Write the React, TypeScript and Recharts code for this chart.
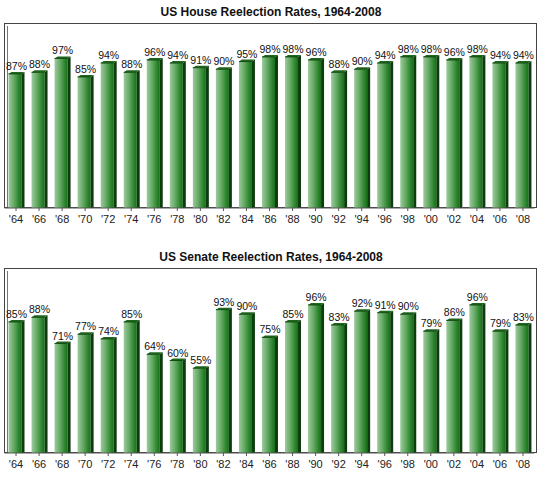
import React from "react";
import { BarChart, Bar, XAxis, YAxis, LabelList } from "recharts";

const YEARS = ["'64","'66","'68","'70","'72","'74","'76","'78","'80","'82","'84","'86","'88","'90","'92","'94","'96","'98","'00","'02","'04","'06","'08"];

const HOUSE_RATES = [87,88,97,85,94,88,96,94,91,90,95,98,98,96,88,90,94,98,98,96,98,94,94];

const SENATE_RATES = [85,88,71,77,74,85,64,60,55,93,90,75,85,96,83,92,91,90,79,86,96,79,83];

const FONT = "'Liberation Sans', Arial, sans-serif";

// 3d-ish bar: gradient front, dark side, dark top cap
const Bar3D = (p: any) => {
  const { x, y, width, height } = p;
  if (height == null || height <= 0) return null;
  const d = 3;
  const fw = width - d;
  return (
    <g>
      <defs>
        <linearGradient id="barFront" x1="0" y1="0" x2="1" y2="0">
          <stop offset="0" stopColor="#9ccb9c" />
          <stop offset="0.4" stopColor="#68aa68" />
          <stop offset="0.75" stopColor="#2f8a30" />
          <stop offset="1" stopColor="#1d6b1e" />
        </linearGradient>
      </defs>
      <rect x={x} y={y} width={fw} height={height} fill="url(#barFront)" />
      <polygon
        points={`${x + fw},${y} ${x + width},${y - 2} ${x + width},${y + height} ${x + fw},${y + height}`}
        fill="#0c3d0c"
      />
      <polygon
        points={`${x},${y} ${x + fw},${y} ${x + width},${y - 2} ${x + d},${y - 2}`}
        fill="#1f661f"
      />
      <line x1={x} y1={y} x2={x + fw} y2={y} stroke="#134d13" strokeWidth={1} />
    </g>
  );
};

function RatesPanel({ title, rates }: { title: string; rates: number[] }) {
  const data = YEARS.map((year, i) => ({ year, rate: rates[i] }));
  return (
    <div style={{ position: "relative", width: 550, height: 245 }}>
      <div
        style={{
          position: "absolute",
          left: 0,
          top: 5,
          width: 542,
          textAlign: "center",
          fontFamily: FONT,
          fontWeight: "bold",
          fontSize: 12,
          color: "#111",
        }}
      >
        {title}
      </div>
      {/* frame of the plot box */}
      <div
        style={{
          position: "absolute",
          left: 4,
          top: 23,
          width: 531,
          height: 183,
          border: "1.5px solid #444",
        }}
      />
      <div
        style={{
          position: "absolute",
          left: 7,
          top: 26,
          width: 0,
          height: 181,
          borderLeft: "1px solid #777",
        }}
      />
      <div style={{ position: "absolute", left: 0, top: 0 }}>
        <BarChart
          width={550}
          height={245}
          data={data}
          margin={{ top: 23, right: 15.5, left: 4.5, bottom: 0 }}
          barSize={16}
        >
          <XAxis
            dataKey="year"
            height={37}
            axisLine={{ stroke: "#555", strokeWidth: 1 }}
            tickLine={{ stroke: "#555" }}
            tickSize={3}
            tickMargin={4}
            interval={0}
            tick={{ fontFamily: FONT, fontSize: 11, fill: "#222" }}
          />
          <YAxis hide domain={[0, 120]} />
          <Bar dataKey="rate" shape={Bar3D} isAnimationActive={false}>
            <LabelList
              dataKey="rate"
              position="top"
              offset={4}
              formatter={(v: any) => `${v}%`}
              style={{ fontFamily: FONT, fontSize: 10.5, fill: "#111" }}
            />
          </Bar>
        </BarChart>
      </div>
    </div>
  );
}

export default function App() {
  return (
    <div style={{ position: "absolute", left: 0, top: 0, width: 550, height: 479, background: "#fff" }}>
      <RatesPanel title="US House Reelection Rates, 1964-2008" rates={HOUSE_RATES} />
      <RatesPanel title="US Senate Reelection Rates, 1964-2008" rates={SENATE_RATES} />
    </div>
  );
}
